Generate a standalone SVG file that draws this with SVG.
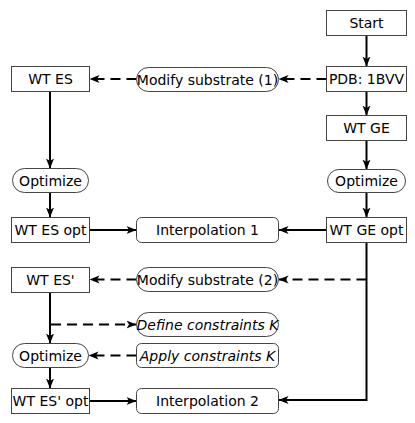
<svg xmlns="http://www.w3.org/2000/svg" width="415" height="423" viewBox="0 0 415 423">
<defs>
<marker id="ah" markerUnits="userSpaceOnUse" markerWidth="11" markerHeight="9" refX="10" refY="4" orient="auto">
<path d="M0,0 L10,4 L0,8 L2.5,4 z" fill="#000"/>
</marker>
<style>
.box{fill:#fff;stroke:#444;stroke-width:1}
.t{font-family:"DejaVu Sans",Verdana,sans-serif;font-size:14px;fill:#000;text-anchor:middle}
.i{font-style:italic}
.c{fill:none;stroke:#000;stroke-width:2;marker-end:url(#ah)}
.d{stroke-dasharray:10 6}
</style>
</defs>
<rect width="415" height="423" fill="#fff"/>
<g id="connectors">
<path class="c" d="M366.5,35.5 V66.5"/>
<path class="c" d="M366.5,91.5 V115.5"/>
<path class="c" d="M366.5,140.5 V169.5"/>
<path class="c" d="M366.5,192.5 V217.5"/>
<path class="c" d="M50,91.5 V168.5"/>
<path class="c" d="M50,192.5 V217.5"/>
<path class="c" d="M89.5,230 H136.5"/>
<path class="c" d="M326.5,230 H278.5"/>
<path class="c" d="M366.5,242.5 V400 H278.5"/>
<path class="c" d="M50,292.5 V343.5"/>
<path class="c" d="M50,367.5 V388.5"/>
<path class="c" d="M89.5,401 H136.5"/>
<path class="c d" d="M326.5,79 H278.5"/>
<path class="c d" d="M136.5,79 H89.5"/>
<path class="c d" d="M366.5,279.5 H278.5"/>
<path class="c d" d="M136.5,279.5 H89.5"/>
<path class="c d" d="M51,324.5 H136.5"/>
<path class="c d" d="M136.5,355.5 H88.5"/>
</g>
<g id="start"><rect class="box" x="326.5" y="10.5" width="80" height="25"/><text class="t" x="366.5" y="28">Start</text></g>
<g id="pdb"><rect class="box" x="326.5" y="66.5" width="80" height="25"/><text class="t" x="366.5" y="84">PDB: 1BVV</text></g>
<g id="wtge"><rect class="box" x="326.5" y="115.5" width="80" height="25"/><text class="t" x="366.5" y="133">WT GE</text></g>
<g id="optR"><rect class="box" x="327.5" y="169.5" width="78" height="23" rx="11.5"/><text class="t" x="366.5" y="186">Optimize</text></g>
<g id="wtgeopt"><rect class="box" x="326.5" y="217.5" width="80" height="25"/><text class="t" x="366.5" y="235">WT GE opt</text></g>
<g id="wtes"><rect class="box" x="11.5" y="66.5" width="78" height="25"/><text class="t" x="50.5" y="84">WT ES</text></g>
<g id="mod1"><rect class="box" x="136.5" y="67.5" width="142" height="24" rx="12"/><text class="t" x="207.5" y="84.5">Modify substrate (1)</text></g>
<g id="optL"><rect class="box" x="12.5" y="168.5" width="76" height="24" rx="12"/><text class="t" x="50.5" y="185.5">Optimize</text></g>
<g id="wtesopt"><rect class="box" x="11.5" y="217.5" width="78" height="25"/><text class="t" x="50.5" y="235">WT ES opt</text></g>
<g id="interp1"><rect class="box" x="136.5" y="217.5" width="142" height="25" rx="5"/><text class="t" x="207.5" y="235">Interpolation 1</text></g>
<g id="wtesp"><rect class="box" x="11.5" y="267.5" width="78" height="25"/><text class="t" x="50.5" y="285">WT ES'</text></g>
<g id="mod2"><rect class="box" x="136.5" y="267.5" width="142" height="24" rx="12"/><text class="t" x="207.5" y="284.5">Modify substrate (2)</text></g>
<g id="define"><rect class="box" x="136.5" y="312.5" width="142" height="24" rx="12"/><text class="t i" x="207.5" y="329.5">Define constraints K</text></g>
<g id="apply"><rect class="box" x="136.5" y="343.5" width="142" height="24" rx="5"/><text class="t i" x="207.5" y="360.5">Apply constraints K</text></g>
<g id="opt3"><rect class="box" x="12.5" y="343.5" width="76" height="24" rx="12"/><text class="t" x="50.5" y="360.5">Optimize</text></g>
<g id="wtespopt"><rect class="box" x="11.5" y="388.5" width="78" height="25"/><text class="t" x="50.5" y="406">WT ES' opt</text></g>
<g id="interp2"><rect class="box" x="136.5" y="388.5" width="142" height="25" rx="5"/><text class="t" x="207.5" y="406">Interpolation 2</text></g>
</svg>
